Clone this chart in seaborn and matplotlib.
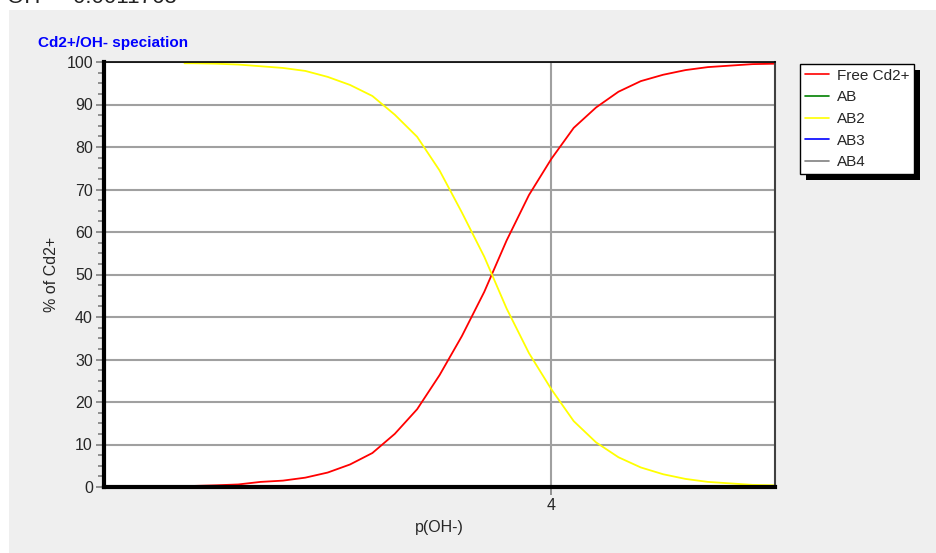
import numpy as np
import pandas as pd
import matplotlib
matplotlib.use("Agg")
import matplotlib.pyplot as plt
from matplotlib.patches import Rectangle
from matplotlib.ticker import MultipleLocator, FixedLocator
import seaborn as sns

# p(OH-) grid and % of Cd2+
p_oh = [2.36, 2.4, 2.5, 2.6, 2.7, 2.8, 2.9, 3.0, 3.1, 3.2, 3.3, 3.4, 3.5, 3.6,
        3.7, 3.8, 3.9, 4.0, 4.1, 4.2, 4.3, 4.4, 4.5, 4.6, 4.7, 4.8, 4.9, 5.0]
free_cd = [0.2, 0.25, 0.4, 0.6, 1.2, 1.5, 2.2, 3.4, 5.3, 8.0, 12.5, 18.3, 26.3, 35.5,
           45.9, 58.0, 68.7, 77.2, 84.5, 89.3, 93.0, 95.5, 97.0, 98.1, 98.8, 99.15, 99.5, 99.6]
ab2 = [99.7, 99.7, 99.6, 99.4, 99.0, 98.6, 97.9, 96.5, 94.6, 92.0, 87.6, 82.4, 74.5, 64.6,
       54.2, 42.0, 31.5, 23.0, 15.5, 10.5, 7.0, 4.6, 3.0, 1.9, 1.2, 0.85, 0.5, 0.4]
ab = [0.0] * len(p_oh)
ab3 = [0.0] * len(p_oh)
ab4 = [0.0] * len(p_oh)

species = ["Free Cd2+", "AB", "AB2", "AB3", "AB4"]
colors = {"Free Cd2+": "#ff0000", "AB": "#008000", "AB2": "#ffff00",
          "AB3": "#0000ff", "AB4": "#808080"}

df = pd.DataFrame({"pOH": p_oh, "Free Cd2+": free_cd, "AB": ab, "AB2": ab2,
                   "AB3": ab3, "AB4": ab4})
long = df.melt(id_vars="pOH", var_name="species", value_name="pct")

sns.set_style("white")
plt.rcParams["font.family"] = ["Liberation Sans", "DejaVu Sans"]

fig = plt.figure(figsize=(9.36, 5.53), dpi=100)
fig.patch.set_facecolor("white")
# grey panel behind the chart
fig.patches.append(Rectangle((9 / 936, 0), 1, (553 - 10) / 553, transform=fig.transFigure,
                             facecolor="#efefef", edgecolor="none", zorder=-10))

ax = fig.add_axes([104 / 936, 1 - 487 / 553, (775 - 104) / 936, (487 - 62) / 553])
ax.set_facecolor("white")

sns.lineplot(data=long, x="pOH", y="pct", hue="species", hue_order=species,
             palette=colors, linewidth=1.3, ax=ax, legend=False)

ax.set_xlim(2.0, 5.0)
ax.set_ylim(0, 100)
ax.yaxis.set_major_locator(MultipleLocator(10))
ax.yaxis.set_minor_locator(MultipleLocator(2.5))
ax.xaxis.set_major_locator(FixedLocator([4]))
ax.set_xticklabels(["4"])

ax.grid(True, which="major", color="#a0a0a0", linewidth=1.5)
ax.set_axisbelow(True)
ax.tick_params(axis="both", which="major", direction="out", length=6, width=1.2,
               color="#808080", labelsize=11.5, pad=2, bottom=True, left=True)
ax.tick_params(axis="y", which="minor", direction="out", length=4, width=1.2,
               color="#808080", left=True)

for side in ["left", "bottom"]:
    ax.spines[side].set_linewidth(3)
    ax.spines[side].set_color("black")
ax.spines["top"].set_linewidth(1.2)
ax.spines["top"].set_color("black")
ax.spines["right"].set_linewidth(1.5)
ax.spines["right"].set_color("#404040")

ax.set_xlabel("p(OH-)", fontsize=11.5, labelpad=5)
ax.set_ylabel("% of Cd2+", fontsize=11.5, labelpad=5)

fig.text(38 / 936, 1 - 47.5 / 553, "Cd2+/OH- speciation", color="#0000ff",
         fontsize=11, fontweight="bold", va="baseline", ha="left")
fig.text(7 / 936, 1 - 3 / 553, "OH- = 0.0011763", color="#222222",
         fontsize=16, va="baseline", ha="left")

handles = [plt.Line2D([], [], color=colors[s], linewidth=1.2) for s in species]
leg = fig.legend(handles, species, loc="upper left",
                 bbox_to_anchor=(800 / 936, 1 - 64 / 553), fontsize=11,
                 frameon=True, fancybox=False, framealpha=1, edgecolor="black",
                 handlelength=1.6, handletextpad=0.5, labelspacing=0.5,
                 borderpad=0.3, borderaxespad=0)
leg.get_frame().set_linewidth(1.0)

# hard black drop shadow under the legend box
fig.canvas.draw()
bb = leg.get_window_extent().transformed(fig.transFigure.inverted())
fig.patches.append(Rectangle((bb.x0 + 6 / 936, bb.y0 - 6 / 553), bb.width, bb.height,
                             transform=fig.transFigure, facecolor="black",
                             edgecolor="none", zorder=1))
leg.set_zorder(5)

fig.savefig("out.png", dpi=100)
